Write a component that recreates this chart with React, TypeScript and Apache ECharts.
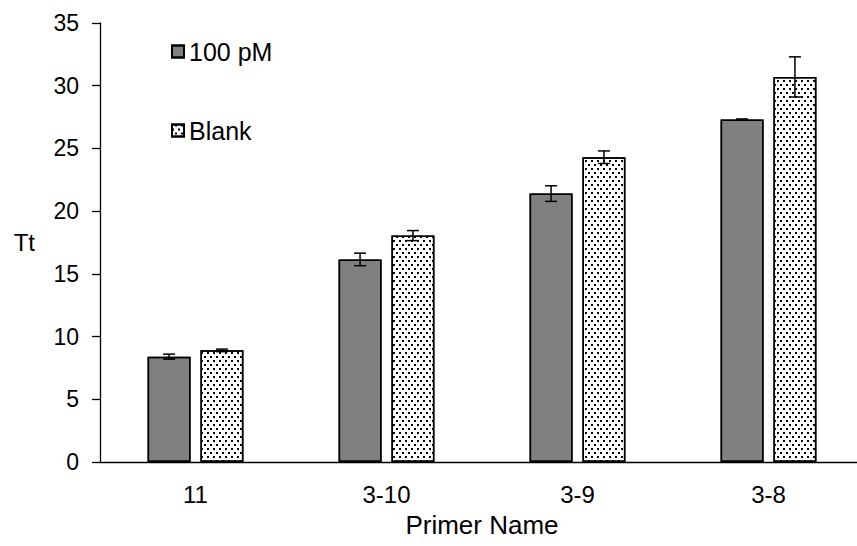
import React, { useEffect, useRef } from "react";
import * as echarts from "echarts";

const categories = ["11", "3-10", "3-9", "3-8"];
const pm100Values = [8.4, 16.15, 21.4, 27.3];
const pm100Errors = [0.2, 0.5, 0.62, 0.05];
const blankValues = [8.9, 18.05, 24.3, 30.7];
const blankErrors = [0.1, 0.4, 0.5, 1.6];
const yTicks = [0, 5, 10, 15, 20, 25, 30, 35];

const FONT = "Liberation Sans, Arial, sans-serif";
const BAR_FRAC = 0.225;
const GAP_FRAC = 0.23;

function errorSeries(name: string, values: number[], errors: number[], side: number) {
  return {
    type: "custom",
    name: name + " err",
    z: 10,
    silent: true,
    data: values.map((v, i) => [i, v, errors[i]]),
    renderItem: (_params: any, api: any) => {
      const ci = api.value(0);
      const v = api.value(1);
      const e = api.value(2);
      const band = api.size([1, 0])[0];
      const barW = band * BAR_FRAC;
      const gap = barW * GAP_FRAC;
      const off = ((barW + gap) / 2) * side;
      const x = api.coord([ci, v])[0] + off;
      const yTop = api.coord([ci, v + e])[1];
      const yBot = api.coord([ci, v - e])[1];
      const hw = 6;
      const st = { stroke: "#000", lineWidth: 1.5 };
      return {
        type: "group",
        children: [
          { type: "line", shape: { x1: x, y1: yTop, x2: x, y2: yBot }, style: st },
          { type: "line", shape: { x1: x - hw, y1: yTop, x2: x + hw, y2: yTop }, style: st },
          { type: "line", shape: { x1: x - hw, y1: yBot, x2: x + hw, y2: yBot }, style: st },
        ],
      };
    },
  };
}

export default function App() {
  const ref = useRef<HTMLDivElement>(null);
  useEffect(() => {
    document.body.style.margin = "0";
    const chart = echarts.init(ref.current!, null, { renderer: "svg" });
    const dotDecal = {
      symbol: "rect",
      symbolSize: 1,
      color: "#000",
      backgroundColor: "rgba(0,0,0,0)",
      dashArrayX: [[2, 4], [0, 3, 2, 1]],
      dashArrayY: [2, 1.5],
      rotation: 0,
      symbolKeepAspect: false,
    };
    const noDecal = { ...dotDecal, color: "rgba(0,0,0,0)" };
    chart.setOption({
      animation: false,
      aria: { enabled: true, decal: { show: true, decals: [noDecal, dotDecal] } },
      textStyle: { fontFamily: FONT },
      grid: { left: 100, right: -7, top: 23, bottom: 84, containLabel: false, outerBoundsMode: "none" },
      legend: {
        data: ["100 pM", "Blank"],
        orient: "vertical",
        left: 166,
        top: 34,
        itemGap: 54,
        itemWidth: 12,
        itemHeight: 12,
        icon: "rect",
        textStyle: { fontSize: 25, color: "#000", fontFamily: FONT },
      },
      xAxis: {
        type: "category",
        data: categories,
        name: "Primer Name",
        nameLocation: "middle",
        nameGap: 50,
        nameTextStyle: { fontSize: 26, color: "#000", fontFamily: FONT },
        axisLine: { lineStyle: { color: "#000", width: 1.3 } },
        axisTick: { alignWithLabel: true, length: 7, lineStyle: { color: "#000", width: 1.3 } },
        axisLabel: { fontSize: 24, color: "#000", margin: 20, fontFamily: FONT },
      },
      yAxis: {
        type: "value",
        min: yTicks[0],
        max: yTicks[yTicks.length - 1],
        interval: 5,
        name: "Tt",
        nameLocation: "middle",
        nameRotate: 0,
        nameGap: 65,
        nameTextStyle: { fontSize: 24, color: "#000", fontFamily: FONT },
        axisLine: { show: true, lineStyle: { color: "#000", width: 1.3 } },
        axisTick: { show: true, inside: false, length: 8, lineStyle: { color: "#000", width: 1.3 } },
        axisLabel: { fontSize: 23, color: "#000", margin: 21, fontFamily: FONT },
        splitLine: { show: false },
      },
      series: [
        {
          type: "bar",
          name: "100 pM",
          data: pm100Values,
          barWidth: BAR_FRAC * 100 + "%",
          barGap: GAP_FRAC * 100 + "%",
          itemStyle: { color: "#808080", borderColor: "#000", borderWidth: 1.5, decal: noDecal },
        },
        {
          type: "bar",
          name: "Blank",
          data: blankValues,
          barWidth: BAR_FRAC * 100 + "%",
          barGap: GAP_FRAC * 100 + "%",
          itemStyle: { color: "#ffffff", borderColor: "#000", borderWidth: 1.5, decal: dotDecal },
        },
        errorSeries("100 pM", pm100Values, pm100Errors, -1),
        errorSeries("Blank", blankValues, blankErrors, 1),
      ],
    });
    return () => chart.dispose();
  }, []);
  return <div ref={ref} style={{ width: 857, height: 546 }} />;
}
